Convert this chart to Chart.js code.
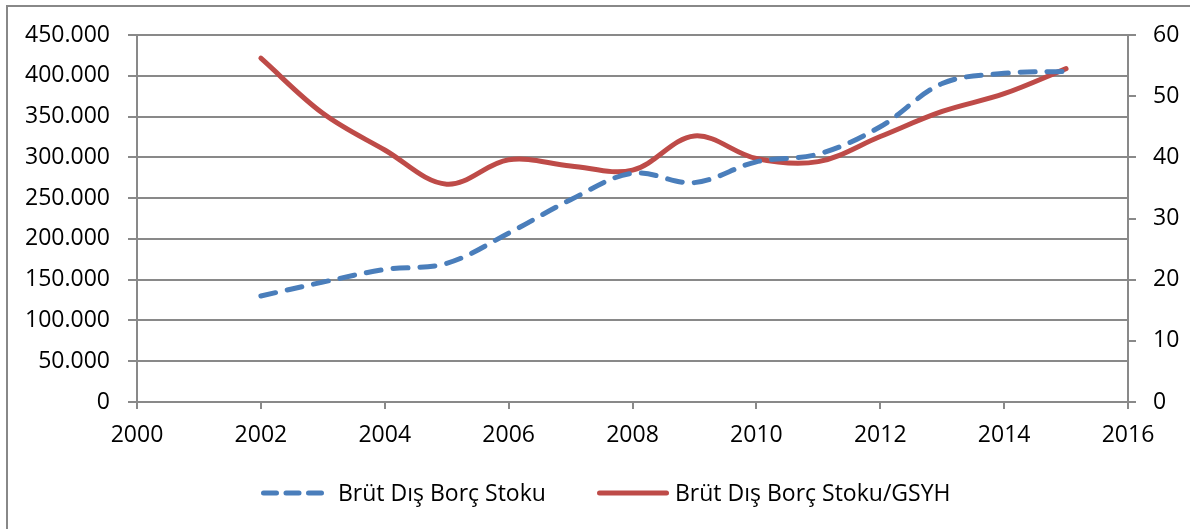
<!DOCTYPE html>
<html>
<head>
<meta charset="utf-8">
<script src="https://cdn.jsdelivr.net/npm/chart.js@4/dist/chart.umd.min.js"></script>
<style>
  html, body { margin: 0; padding: 0; background: #fff; }
  #wrap { width: 1190px; height: 529px; position: relative; }
</style>
</head>
<body>
<div id="wrap"><canvas id="c" width="1190" height="529"></canvas></div>
<script>
// ---- data ----
const years = [2002, 2003, 2004, 2005, 2006, 2007, 2008, 2009, 2010, 2011, 2012, 2013, 2014, 2015];
const stockValues = [130000, 147000, 162500, 170000, 207000, 248000, 280500, 269000, 294500, 304000, 337500, 390500, 403000, 405500];
const ratioValues = [56.2, 47.2, 41.2, 35.6, 39.6, 38.6, 37.9, 43.5, 39.8, 39.3, 43.4, 47.5, 50.4, 54.5];
const stockLabel = 'Brüt Dış Borç Stoku';
const ratioLabel = 'Brüt Dış Borç Stoku/GSYH';
const xMin = 2000, xMax = 2016, xStep = 2;
const yLeftMax = 450000, yLeftStep = 50000;
const yRightMax = 60, yRightStep = 10;

const FONT = 'Open Sans';
const FSIZE = 23;
const GRID = '#898989';
const BLUE = '#4A7EBB';
const RED = '#BE4B48';

function fmtThousands(v) {
  return String(Math.round(v)).replace(/\B(?=(\d{3})+(?!\d))/g, '.');
}

const borderPlugin = {
  id: 'outerBorder',
  beforeDraw(chart) {
    const ctx = chart.ctx;
    ctx.save();
    ctx.strokeStyle = '#888888';
    ctx.lineWidth = 2;
    ctx.beginPath();
    ctx.moveTo(7, 529);
    ctx.lineTo(7, 6);
    ctx.lineTo(1190, 6);
    ctx.stroke();
    ctx.restore();
  }
};

// legend drawn below the x axis, items placed as in the reference
const legendPlugin = {
  id: 'bottomLegend',
  afterDraw(chart) {
    const ctx = chart.ctx;
    const ds = chart.data.datasets;
    const y = 493;
    const items = [
      { lineFrom: 263.5, lineTo: 321.5, textX: 338, dash: [13, 9.5], ds: ds[0] },
      { lineFrom: 599.5, lineTo: 666.5, textX: 675, dash: [], ds: ds[1] }
    ];
    ctx.save();
    items.forEach(it => {
      ctx.strokeStyle = it.ds.borderColor;
      ctx.lineWidth = 5;
      ctx.lineCap = 'round';
      ctx.setLineDash(it.dash);
      ctx.beginPath();
      ctx.moveTo(it.lineFrom, y);
      ctx.lineTo(it.lineTo, y);
      ctx.stroke();
      ctx.setLineDash([]);
      ctx.fillStyle = '#000';
      ctx.font = FSIZE + 'px "' + FONT + '"';
      ctx.textAlign = 'left';
      ctx.textBaseline = 'middle';
      ctx.fillText(it.ds.label, it.textX, y + 1);
    });
    ctx.restore();
  }
};

Chart.defaults.font.family = FONT;
Chart.defaults.font.size = FSIZE;
Chart.defaults.color = '#000';

new Chart(document.getElementById('c'), {
  type: 'line',
  data: {
    datasets: [
      {
        label: stockLabel,
        data: years.map((y, i) => ({ x: y, y: stockValues[i] })),
        yAxisID: 'yL',
        borderColor: BLUE,
        backgroundColor: BLUE,
        borderWidth: 5,
        borderDash: [15, 12],
        borderCapStyle: 'round',
        pointRadius: 0,
        tension: 0.35,
        fill: false
      },
      {
        label: ratioLabel,
        data: years.map((y, i) => ({ x: y, y: ratioValues[i] })),
        yAxisID: 'yR',
        borderColor: RED,
        backgroundColor: RED,
        borderWidth: 5,
        borderCapStyle: 'round',
        pointRadius: 0,
        tension: 0.35,
        fill: false
      }
    ]
  },
  options: {
    responsive: false,
    animation: false,
    layout: { padding: { top: 35, left: 0, right: 0, bottom: 67 } },
    plugins: {
      tooltip: { enabled: false },
      legend: { display: false }
    },
    scales: {
      x: {
        type: 'linear',
        min: xMin,
        max: xMax,
        position: 'bottom',
        afterFit(s) { s.height = 60; },
        ticks: {
          stepSize: xStep,
          padding: 13,
          maxRotation: 0,
          autoSkip: false,
          callback: v => String(v),
          font: { family: FONT, size: FSIZE },
          color: '#000'
        },
        grid: { drawOnChartArea: false, drawTicks: true, tickLength: 7, color: GRID, lineWidth: 2 },
        border: { color: GRID, width: 2 }
      },
      yL: {
        type: 'linear',
        position: 'left',
        min: 0,
        max: yLeftMax,
        afterFit(s) { s.width = 137; },
        ticks: {
          stepSize: yLeftStep,
          padding: 18,
          callback: v => fmtThousands(v),
          font: { family: FONT, size: FSIZE },
          color: '#000'
        },
        grid: { color: GRID, lineWidth: 2, tickLength: 9, drawTicks: true },
        border: { color: GRID, width: 2 }
      },
      yR: {
        type: 'linear',
        position: 'right',
        min: 0,
        max: yRightMax,
        afterFit(s) { s.width = 62; },
        ticks: {
          stepSize: yRightStep,
          padding: 17,
          callback: v => String(v),
          font: { family: FONT, size: FSIZE },
          color: '#000'
        },
        grid: { drawOnChartArea: false, color: GRID, lineWidth: 2, tickLength: 8, drawTicks: true },
        border: { color: GRID, width: 2 }
      }
    }
  },
  plugins: [borderPlugin, legendPlugin]
});
</script>
</body>
</html>
